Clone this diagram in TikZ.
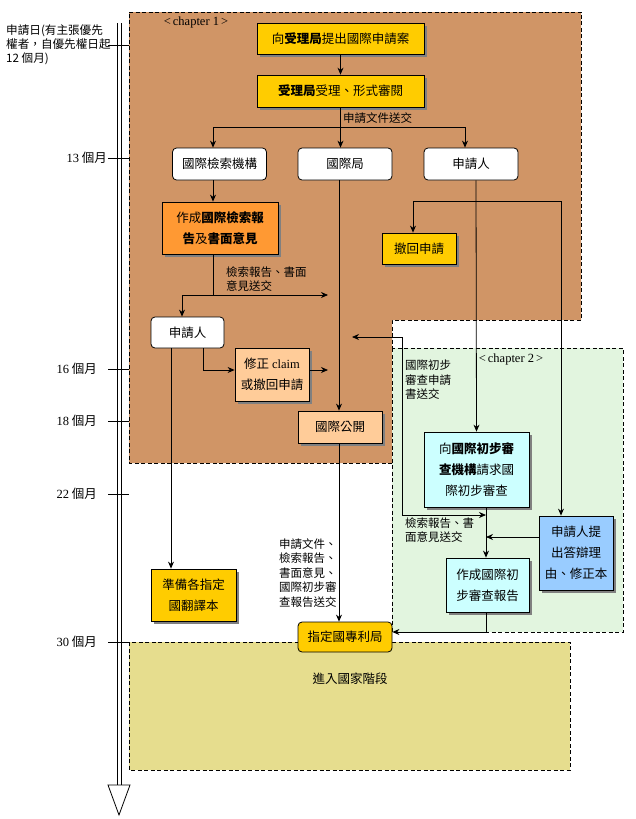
\documentclass[tikz,border=0pt]{standalone}
\usepackage{fontspec}
\setmainfont{Noto Sans CJK TC}
\newfontfamily\serif{Liberation Serif}
\usepackage{tikz}
\usetikzlibrary{arrows.meta,shadows}
\definecolor{chapOne}{HTML}{D09566}
\definecolor{chapTwo}{HTML}{E2F5DF}
\definecolor{national}{HTML}{E6DD8E}
\definecolor{boxYellow}{HTML}{FFCC00}
\definecolor{boxOrange}{HTML}{FF9933}
\definecolor{boxPeach}{HTML}{FFCC99}
\definecolor{boxCyan}{HTML}{CCFFFF}
\definecolor{boxBlue}{HTML}{99CCFF}
\tikzset{
  region/.style = {draw, line width=0.8pt, dash pattern=on 4pt off 2.5pt},
  flowbox/.style = {draw, line width=0.8pt, inner sep=0pt, align=center,
    font=\fontsize{12.5}{21}\selectfont,
    drop shadow={shadow xshift=3pt, shadow yshift=-3pt, fill=black!50, opacity=1}},
  officebox/.style = {draw, line width=0.8pt, inner sep=0pt, align=center, fill=white,
    rounded corners=4pt, font=\fontsize{12.5}{21}\selectfont},
  yellowbox/.style = {flowbox, fill=boxYellow},
  orangebox/.style = {flowbox, fill=boxOrange},
  peachbox/.style = {flowbox, fill=boxPeach},
  cyanbox/.style = {flowbox, fill=boxCyan},
  bluebox/.style = {flowbox, fill=boxBlue},
  flowedge/.style = {line width=0.8pt},
  flowarrow/.style = {flowedge, ->},
  note/.style = {inner sep=0pt, align=left, font=\fontsize{11.5}{14.5}\selectfont},
  monthlabel/.style = {inner sep=0pt, anchor=east, font=\fontsize{12.5}{15}\selectfont},
}

\begin{document}
\begin{tikzpicture}[x=1pt, y=-1pt, >={Stealth[length=7pt,width=6pt]}]
\useasboundingbox (0,0) rectangle (635,819);

% chapter areas
\draw[region, fill=chapOne] (129,12) -- (581,12) -- (581,320) -- (392,320)
  -- (392,463) -- (129,463) -- cycle;
\draw[region, fill=chapTwo] (392,348) rectangle (623,632);
\draw[region, fill=national] (129,642) rectangle (570,770);
\node[note, font=\serif\fontsize{12.5}{15}\selectfont] (ch1) at (196,22) {<\,chapter 1\,>};
\node[note, font=\serif\fontsize{12.5}{15}\selectfont] (ch2) at (511,359) {<\,chapter 2\,>};
\node[note, font=\fontsize{12.5}{15}\selectfont] (phase) at (350,679) {進入國家階段};

% time axis
\draw[flowedge] (117.5,23) -- (117.5,785);
\draw[flowedge] (121,23) -- (121,785);
\draw[flowedge, fill=white] (108,785) -- (130,785) -- (119,815) -- cycle;
\draw[flowedge] (108,45) -- (129,45);
\node[note, anchor=west, font=\fontsize{11.6}{14}\selectfont] (start) at (6,45)
  {申請日(有主張優先\\權者，自優先權日起\\12 個月)};
\foreach \y/\m/\x in {158/13/107, 369/16/97, 421/18/97, 494/22/97, 642/30/97} {
  \draw[flowedge] (108,\y) -- (129,\y);
  \node[monthlabel] (m\m) at (\x,\y) {{\serif\m} 個月};
}

% chapter 1 boxes
\node[yellowbox, minimum width=167pt, minimum height=31pt] (file) at (340.5,38.5)
  {向{\bfseries 受理局}提出國際申請案};
\node[yellowbox, minimum width=167pt, minimum height=32pt] (check) at (340.5,91)
  {{\bfseries 受理局}受理、形式審閱};
\node[officebox, minimum width=94pt, minimum height=32pt] (isa) at (219.5,164) {國際檢索機構};
\node[officebox, minimum width=94pt, minimum height=32pt] (ib) at (345,164) {國際局};
\node[officebox, minimum width=94pt, minimum height=32pt] (app) at (471,164) {申請人};
\node[orangebox, minimum width=116pt, minimum height=52pt] (isr) at (220,228)
  {作成{\bfseries 國際檢索報}\\{\bfseries 告}及{\bfseries 書面意見}};
\node[yellowbox, minimum width=74pt, minimum height=31pt] (withdraw) at (419,248.5) {撤回申請};
\node[officebox, minimum width=73pt, minimum height=31pt] (app2) at (187.5,332.5) {申請人};
\node[peachbox, minimum width=74pt, minimum height=53pt] (amend) at (272,374.5)
  {修正 {\serif claim}\\或撤回申請};
\node[peachbox, minimum width=84pt, minimum height=32pt] (pub) at (340,427) {國際公開};

% chapter 2 boxes
\node[cyanbox, minimum width=105pt, minimum height=75pt] (ipea) at (476.5,469.5)
  {向{\bfseries 國際初步審}\\{\bfseries 查機構}請求國\\際初步審查};
\node[bluebox, minimum width=74pt, minimum height=74pt] (reply) at (576,553)
  {申請人提\\出答辯理\\由、修正本};
\node[cyanbox, minimum width=83pt, minimum height=54pt] (iper) at (487.5,585)
  {作成國際初\\步審查報告};

% national phase
\node[yellowbox, minimum width=85pt, minimum height=52pt] (transl) at (193.5,595)
  {準備各指定\\國翻譯本};
\node[officebox, fill=boxYellow, minimum width=94pt, minimum height=30pt] (dpo) at (345,637)
  {指定國專利局};

% lanes and bends
\coordinate (split) at (0,127);
\coordinate (rep) at (213,295);
\coordinate (repEnd) at (328,295);
\coordinate (amendEnd) at (328,370);
\coordinate (bend) at (0,201);
\coordinate (ipeaIn) at (352,337);
\coordinate (lane) at (402,515);
\coordinate (ipl) at ([xshift=9.5pt]ipea.south);
\coordinate (rw) at ([yshift=16pt]reply.west);
\coordinate (de) at ([yshift=5pt]dpo.east);

% connectors
\draw[flowarrow] (file) -- (check);
\draw[flowarrow] (check.south) -- (check.south |- ib.north);
\draw[flowarrow] (check.south |- split) -| ([xshift=-6.5pt]isa.north);
\draw[flowarrow] (check.south |- split) -| ([xshift=-6pt]app.north);
\node[note, anchor=west] (sendA) at (343,118) {申請文件送交};

\draw[flowarrow] ([xshift=-6.5pt]isa.south) -- ([xshift=-7pt]isr.north);
\draw[flowedge] ([xshift=-7pt]isr.south) -- (rep);
\draw[flowarrow] (rep) -| ([xshift=-5.5pt]app2.north);
\draw[flowarrow] (rep) -- (repEnd);
\node[note, anchor=west] (sendB) at (226,279) {檢索報告、書面\\意見送交};

\draw[flowarrow] ([xshift=-16.5pt]app2.south) -- ([xshift=-22.5pt]transl.north);
\draw[flowarrow] ([xshift=15.5pt]app2.south) |- ([yshift=4.5pt]amend.west);
\draw[flowarrow] ([yshift=4.5pt]amend.east) -- (amendEnd);

\draw[flowarrow] ([xshift=-6pt]ib.south) -- ([xshift=-1pt]pub.north);
\draw[flowarrow] ([xshift=-1pt]pub.south) -- ([xshift=-6pt]dpo.north);
\node[note, anchor=west] (sendE) at (279,573)
  {申請文件、\\檢索報告、\\書面意見、\\國際初步審\\查報告送交};

\draw[{Stealth[length=7pt,width=6pt]}-{Stealth[length=7pt,width=6pt]}, flowedge]
  ([xshift=-6pt]withdraw.north) |- ([xshift=-15pt]reply.north |- bend)
  -- ([xshift=-15pt]reply.north);
\draw[flowarrow] ([xshift=5pt]app.south) -- (ipea.north);

\draw[{Stealth[length=7pt,width=6pt]}-{Stealth[length=7pt,width=6pt]}, flowedge]
  (ipeaIn) -| (lane) -- (ipl |- lane);
\node[note, anchor=west] (sendC) at (405,380) {國際初步\\審查申請\\書送交};
\node[note, anchor=west] (sendD) at (405,530) {檢索報告、書\\面意見送交};

\draw[flowarrow] (ipl) -- (ipl |- iper.north);
\draw[flowarrow] (rw) -- (ipl |- rw);
\draw[flowarrow] (iper.south -| ipl) |- (de);

\end{tikzpicture}
\end{document}
